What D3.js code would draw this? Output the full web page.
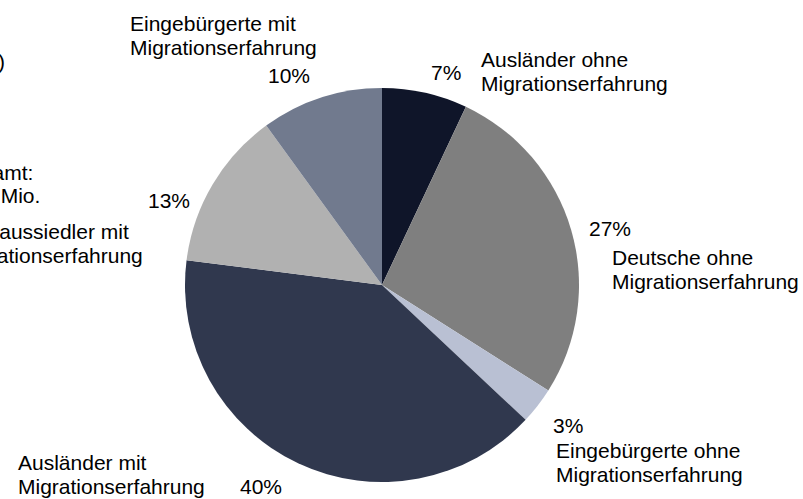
<!DOCTYPE html>
<html>
<head>
<meta charset="utf-8">
<script src="https://cdn.jsdelivr.net/npm/d3@7"></script>
<style>
  body { margin: 0; background: #fff; }
  text { font-family: "Liberation Sans", Arial, sans-serif; font-size: 21px; fill: #000; }
</style>
</head>
<body>
<script>
// data, clockwise from 12 o'clock
var categories = [
    "Ausländer ohne Migrationserfahrung",
    "Deutsche ohne Migrationserfahrung",
    "Eingebürgerte ohne Migrationserfahrung",
    "Ausländer mit Migrationserfahrung",
    "Spätaussiedler mit Migrationserfahrung",
    "Eingebürgerte mit Migrationserfahrung"
];
var shares = [7, 27, 3, 40, 13, 10];
var colors = ["#0f1529", "#7f7f7f", "#b9c0d3", "#30384e", "#b1b1b1", "#717a8e"];
var totalLines = ["Gesamt:", "15,3 Mio."];
var noteLine = "(in %)";

var svgWidth = 803;
var svgHeight = 499;
var cx = 382, cy = 285, radius = 197;

// label layout: [x, y] of percent label, [x, y] of category label
var labelLayout = [
    { pct: [431, 80], cat: [481, 67] },
    { pct: [589, 236], cat: [612, 265] },
    { pct: [553, 433], cat: [556, 458] },
    { pct: [240, 494], cat: [18, 470] },
    { pct: [148, 208], cat: [-44, 239] },
    { pct: [268, 83], cat: [130, 31] }
];

var svg = d3.select("body")
    .append("svg")
    .attr("width", svgWidth)
    .attr("height", svgHeight);

var pie = d3.pie().sort(null).value(d => d);
var arc = d3.arc().innerRadius(0).outerRadius(radius);

var pieGroup = svg.append("g")
    .attr("transform", `translate(${cx}, ${cy})`);

pieGroup.selectAll("path")
    .data(pie(shares))
    .enter()
    .append("path")
    .attr("d", arc)
    .attr("fill", (d, i) => colors[i]);

var lineH = 24;

labelLayout.forEach(function(l, i) {
    svg.append("text")
        .attr("x", l.pct[0])
        .attr("y", l.pct[1])
        .text(shares[i] + "%");

    // two lines: "<group> ohne/mit" and "Migrationserfahrung"
    var parts = categories[i].split(" Migrationserfahrung");
    var t = svg.append("text")
        .attr("x", l.cat[0])
        .attr("y", l.cat[1]);
    t.append("tspan").attr("x", l.cat[0]).text(parts[0]);
    t.append("tspan").attr("x", l.cat[0]).attr("dy", lineH).text("Migrationserfahrung");
});

// total, partly cut off on the left
var tot = svg.append("text").attr("x", -46).attr("y", 180);
tot.append("tspan").attr("x", -46).text(totalLines[0]);
tot.append("tspan").attr("x", -46).attr("dy", 23).text(totalLines[1]);

svg.append("text")
    .attr("x", 5)
    .attr("y", 69)
    .attr("text-anchor", "end")
    .text(noteLine);
</script>
</body>
</html>
